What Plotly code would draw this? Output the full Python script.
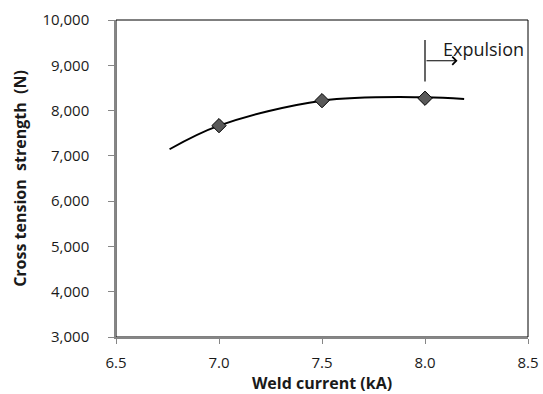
import plotly.graph_objects as go

# Measured data
weld_current = [7.0, 7.5, 8.0]
cross_tension = [7667, 8219, 8272]

# Smoothed trend curve
curve_current = [6.76, 7.0, 7.5, 8.0, 8.19]
curve_strength = [7146, 7667, 8219, 8295, 8258]

expulsion_current = 8.0
y_ticks = [3000, 4000, 5000, 6000, 7000, 8000, 9000, 10000]
x_ticks = [6.5, 7.0, 7.5, 8.0, 8.5]

FONT = "Open Sans"
AX_GRAY = "#868686"
TXT = "#1a1a1a"

fig = go.Figure()
fig.add_trace(go.Scatter(
    x=curve_current, y=curve_strength, mode="lines",
    line=dict(color="black", width=2, shape="spline", smoothing=1.0),
    hoverinfo="skip", showlegend=False))
fig.add_trace(go.Scatter(
    x=weld_current, y=cross_tension, mode="markers",
    marker=dict(symbol="diamond", size=11, color="#595959",
                line=dict(color="black", width=1)),
    showlegend=False))

# Plot border (top/right black)
fig.add_shape(type="rect", xref="paper", yref="paper", x0=0, y0=0, x1=1, y1=1,
              line=dict(color="black", width=1), layer="below")

# Expulsion marker
fig.add_shape(type="line", xref="x", yref="y",
              x0=expulsion_current, x1=expulsion_current, y0=8640, y1=9560,
              line=dict(color="black", width=1.2))
fig.add_annotation(x=expulsion_current + 0.158, y=9100, ax=expulsion_current, ay=9100,
                   xref="x", yref="y", axref="x", ayref="y",
                   text="", showarrow=True, arrowhead=4, arrowsize=1.3,
                   arrowwidth=1.2, arrowcolor="black")
fig.add_annotation(x=expulsion_current + 0.08, y=9370, xref="x", yref="y",
                   text="Expulsion", showarrow=False, xanchor="left",
                   font=dict(family=FONT, size=18, color=TXT))

fig.update_xaxes(range=[6.5, 8.5], tickvals=x_ticks, tickformat=".1f",
                 showgrid=False, zeroline=False, showline=True,
                 linecolor=AX_GRAY, linewidth=1.5, ticks="outside",
                 tickcolor=AX_GRAY, ticklen=5, tickwidth=1.2,
                 ticklabelstandoff=6, automargin=False,
                 tickfont=dict(family=FONT, size=15, color=TXT),
                 title=dict(text="<b>Weld current (kA)</b>",
                            font=dict(family=FONT, size=16, color=TXT),
                            standoff=8))
fig.update_yaxes(range=[3000, 10000], tickvals=y_ticks, tickformat=",d",
                 showgrid=False, zeroline=False, showline=True,
                 linecolor=AX_GRAY, linewidth=1.5, ticks="outside",
                 tickcolor=AX_GRAY, ticklen=6, tickwidth=1.2,
                 ticklabelstandoff=16, automargin=False,
                 tickfont=dict(family=FONT, size=15, color=TXT),
                 title=dict(text="<b>Cross tension  strength  (N)</b>",
                            font=dict(family=FONT, size=16, color=TXT),
                            standoff=12))

fig.update_layout(width=543, height=394,
                  margin=dict(l=116, r=15, t=20, b=57),
                  plot_bgcolor="white", paper_bgcolor="white")

fig.write_html("out.html")
